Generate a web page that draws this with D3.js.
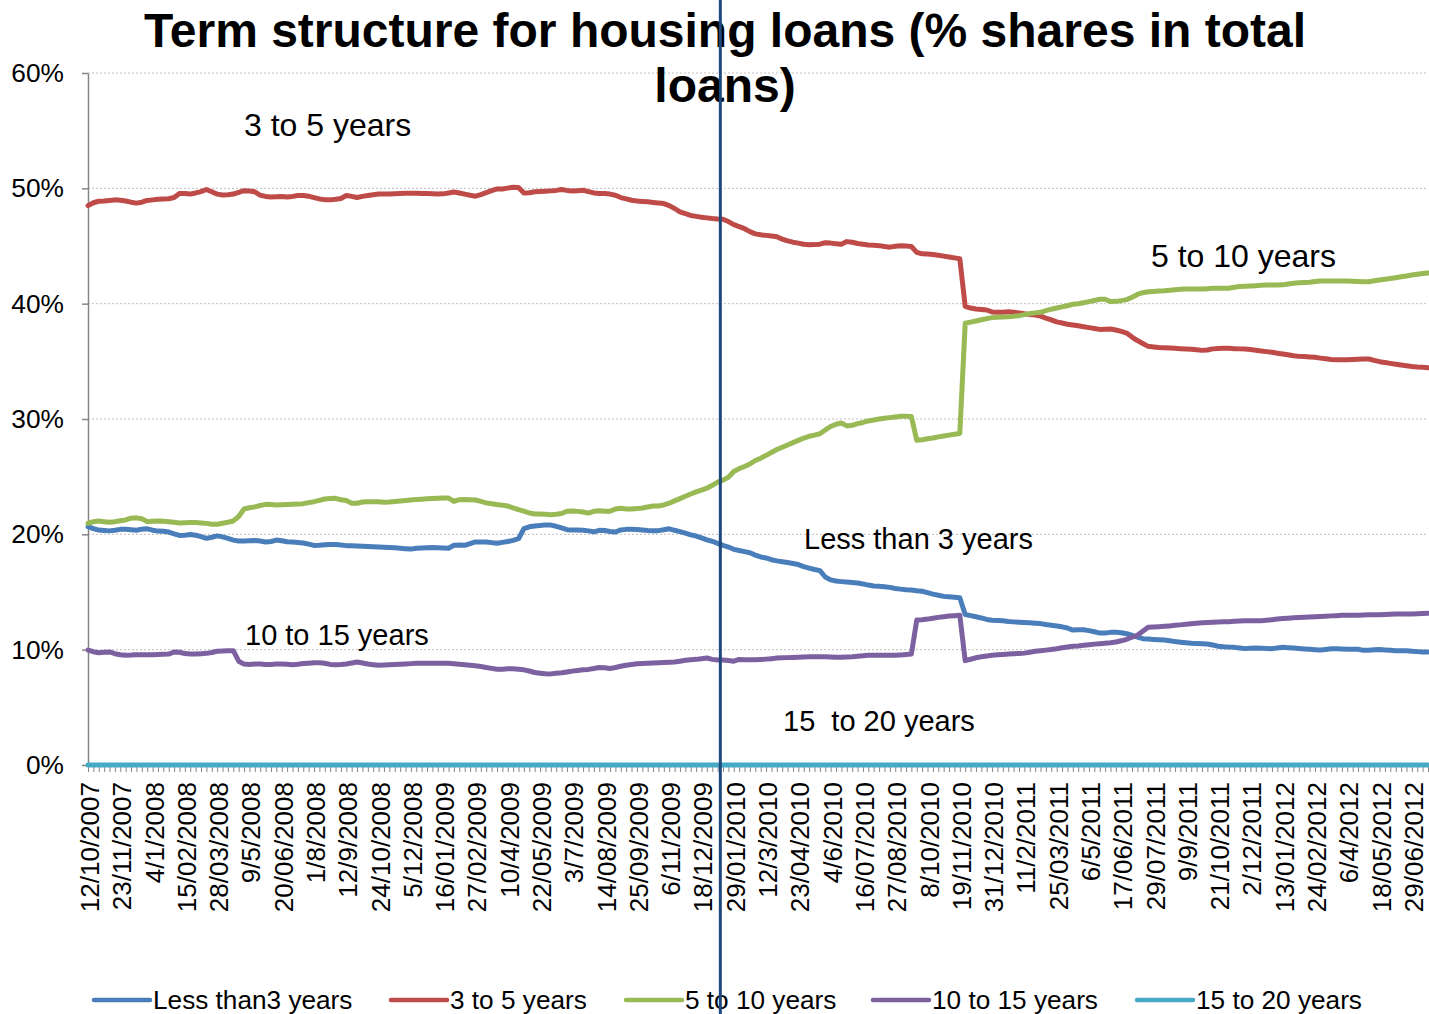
<!DOCTYPE html>
<html>
<head>
<meta charset="utf-8">
<script src="https://cdn.jsdelivr.net/npm/d3@7"></script>
<style>
  body { margin: 0; background: #ffffff; }
  svg { display: block; }
  text { font-family: "Liberation Sans", Arial, Helvetica, sans-serif; fill: #000; }
</style>
</head>
<body>
<svg id="chart" width="1429" height="1014"></svg>
<script>
// Weekly term structure of housing loans, % shares in total loans (12/10/2007 onwards)

const seriesNames = ["Less than3 years", "3 to 5 years", "5 to 10 years", "10 to 15 years", "15 to 20 years"];

const lessThan3 = [
  20.66, 20.5, 20.37, 20.33, 20.3, 20.35, 20.43, 20.44, 20.4, 20.35,
  20.45, 20.48, 20.36, 20.28, 20.26, 20.2, 20.05, 19.9, 19.93, 19.98,
  19.93, 19.8, 19.65, 19.75, 19.87, 19.78, 19.65, 19.5, 19.43, 19.43,
  19.45, 19.46, 19.42, 19.34, 19.38, 19.5, 19.45, 19.36, 19.33, 19.29,
  19.25, 19.15, 19.04, 19.05, 19.1, 19.12, 19.12, 19.07, 19.02, 19.0,
  18.98, 18.96, 18.94, 18.92, 18.9, 18.88, 18.86, 18.84, 18.8, 18.76,
  18.72, 18.8, 18.82, 18.84, 18.85, 18.84, 18.82, 18.8, 19.05, 19.08,
  19.05, 19.2, 19.34, 19.34, 19.34, 19.28, 19.22, 19.3, 19.38, 19.48,
  19.62, 20.5, 20.65, 20.72, 20.76, 20.82, 20.8, 20.7, 20.55, 20.4,
  20.38, 20.38, 20.36, 20.3, 20.22, 20.35, 20.33, 20.25, 20.2, 20.38,
  20.43, 20.43, 20.42, 20.37, 20.33, 20.32, 20.32, 20.4, 20.48, 20.35,
  20.24, 20.1, 19.95, 19.85, 19.7, 19.52, 19.4, 19.22, 19.05, 18.9,
  18.7, 18.6, 18.5, 18.4, 18.2, 18.04, 17.95, 17.8, 17.7, 17.62,
  17.55, 17.47, 17.38, 17.2, 17.07, 16.95, 16.85, 16.3, 16.05, 15.95,
  15.9, 15.86, 15.82, 15.78, 15.7, 15.6, 15.52, 15.5, 15.46, 15.4,
  15.3, 15.25, 15.2, 15.17, 15.1, 15.06, 14.95, 14.82, 14.72, 14.62,
  14.58, 14.55, 14.5, 13.05, 12.95, 12.85, 12.75, 12.62, 12.55, 12.53,
  12.51, 12.45, 12.41, 12.38, 12.35, 12.33, 12.3, 12.26, 12.18, 12.12,
  12.05, 11.98, 11.88, 11.7, 11.73, 11.72, 11.65, 11.55, 11.44, 11.45,
  11.5, 11.52, 11.47, 11.38, 11.25, 11.08, 10.95, 10.92, 10.89, 10.86,
  10.84, 10.78, 10.7, 10.65, 10.6, 10.55, 10.53, 10.51, 10.49, 10.4,
  10.3, 10.25, 10.22, 10.2, 10.14, 10.09, 10.12, 10.14, 10.12, 10.1,
  10.09, 10.15, 10.2, 10.17, 10.14, 10.1, 10.06, 10.03, 10.0, 9.97,
  10.02, 10.07, 10.08, 10.05, 10.03, 10.03, 10.03, 9.94, 9.95, 10.0,
  10.02, 9.98, 9.94, 9.91, 9.91, 9.91, 9.87, 9.83, 9.8, 9.8
];

const from3to5 = [
  48.5, 48.75, 48.88, 48.9, 48.95, 49.0, 48.97, 48.9, 48.8, 48.72,
  48.8, 48.95, 49.0, 49.05, 49.07, 49.1, 49.2, 49.55, 49.55, 49.5,
  49.6, 49.72, 49.9, 49.7, 49.5, 49.42, 49.45, 49.5, 49.65, 49.8,
  49.77, 49.7, 49.4, 49.3, 49.25, 49.28, 49.3, 49.25, 49.3, 49.38,
  49.38, 49.32, 49.2, 49.08, 49.02, 49.0, 49.05, 49.12, 49.38, 49.3,
  49.2, 49.3, 49.38, 49.45, 49.5, 49.5, 49.5, 49.52, 49.55, 49.58,
  49.58, 49.58, 49.56, 49.55, 49.53, 49.5, 49.52, 49.6, 49.68, 49.6,
  49.5, 49.4, 49.32, 49.45, 49.62, 49.8, 49.95, 49.95, 50.02, 50.1,
  50.08, 49.6, 49.62, 49.7, 49.72, 49.75, 49.78, 49.82, 49.9, 49.82,
  49.77, 49.8, 49.83, 49.72, 49.6, 49.55, 49.55, 49.5, 49.4, 49.2,
  49.08, 48.97, 48.9, 48.86, 48.83, 48.78, 48.73, 48.68, 48.5, 48.25,
  47.95, 47.8, 47.65, 47.57, 47.5, 47.44, 47.38, 47.34, 47.32, 47.12,
  46.85, 46.68, 46.5, 46.25, 46.05, 45.97, 45.92, 45.87, 45.8, 45.6,
  45.45, 45.33, 45.25, 45.15, 45.1, 45.12, 45.16, 45.28, 45.25, 45.2,
  45.15, 45.38, 45.32, 45.22, 45.15, 45.09, 45.06, 45.03, 44.95, 44.9,
  44.98, 45.02, 45.0, 44.95, 44.45, 44.32, 44.3, 44.26, 44.2, 44.12,
  44.05, 43.97, 43.9, 39.77, 39.62, 39.54, 39.5, 39.45, 39.28, 39.25,
  39.25, 39.3, 39.25, 39.2, 39.12, 39.07, 39.02, 38.92, 38.75, 38.6,
  38.42, 38.32, 38.22, 38.15, 38.08, 38.0, 37.92, 37.85, 37.77, 37.78,
  37.8, 37.72, 37.6, 37.45, 37.1, 36.8, 36.55, 36.3, 36.25, 36.2,
  36.17, 36.15, 36.13, 36.1, 36.07, 36.05, 36.0, 35.95, 35.98, 36.08,
  36.12, 36.13, 36.13, 36.1, 36.08, 36.07, 36.03, 35.97, 35.9, 35.84,
  35.78, 35.7, 35.63, 35.57, 35.48, 35.43, 35.41, 35.38, 35.35, 35.28,
  35.22, 35.16, 35.14, 35.14, 35.14, 35.16, 35.18, 35.2, 35.2, 35.08,
  34.97, 34.9, 34.82, 34.75, 34.68, 34.62, 34.55, 34.5, 34.48, 34.45
];

const from5to10 = [
  20.95, 21.1, 21.15, 21.1, 21.05, 21.1, 21.18, 21.25, 21.4, 21.43,
  21.35, 21.1, 21.14, 21.16, 21.14, 21.1, 21.05, 20.98, 21.0, 21.03,
  21.03, 20.99, 20.95, 20.88, 20.88, 20.96, 21.05, 21.16, 21.55, 22.2,
  22.3, 22.38, 22.5, 22.6, 22.58, 22.55, 22.56, 22.58, 22.6, 22.62,
  22.66, 22.75, 22.83, 22.95, 23.06, 23.1, 23.12, 23.0, 22.93, 22.7,
  22.7, 22.8, 22.83, 22.83, 22.83, 22.79, 22.8, 22.85, 22.89, 22.93,
  22.98, 23.03, 23.05, 23.08, 23.1, 23.12, 23.15, 23.15, 22.85, 23.0,
  23.02, 23.0, 22.98, 22.86, 22.73, 22.65, 22.58, 22.53, 22.45, 22.3,
  22.15, 22.02, 21.85, 21.76, 21.76, 21.74, 21.7, 21.74, 21.8, 22.0,
  22.03, 21.99, 21.93, 21.84, 22.0, 22.04, 22.01, 22.0, 22.2, 22.27,
  22.2, 22.2, 22.23, 22.28, 22.37, 22.46, 22.46, 22.55, 22.7, 22.9,
  23.1, 23.3, 23.5, 23.68, 23.84, 24.0, 24.25, 24.52, 24.7, 24.95,
  25.45, 25.7, 25.88, 26.1, 26.4, 26.6, 26.85, 27.1, 27.35, 27.55,
  27.75, 27.95, 28.15, 28.35, 28.5, 28.6, 28.72, 29.05, 29.35, 29.55,
  29.65, 29.4, 29.45, 29.6, 29.7, 29.83, 29.92, 30.0, 30.06, 30.12,
  30.18, 30.23, 30.23, 30.22, 28.15, 28.2, 28.28, 28.35, 28.45, 28.53,
  28.6, 28.68, 28.75, 38.3, 38.4, 38.5, 38.6, 38.7, 38.79, 38.82,
  38.84, 38.86, 38.9, 38.96, 39.05, 39.14, 39.2, 39.25, 39.4, 39.52,
  39.62, 39.72, 39.82, 39.95, 40.0, 40.08, 40.18, 40.28, 40.38, 40.38,
  40.18, 40.2, 40.26, 40.35, 40.55, 40.8, 40.95, 41.04, 41.06, 41.09,
  41.12, 41.17, 41.21, 41.24, 41.27, 41.27, 41.27, 41.27, 41.3, 41.33,
  41.33, 41.33, 41.34, 41.42, 41.48, 41.51, 41.54, 41.56, 41.59, 41.61,
  41.62, 41.62, 41.63, 41.7, 41.77, 41.81, 41.83, 41.86, 41.92, 41.96,
  41.97, 41.97, 41.97, 41.97, 41.97, 41.94, 41.92, 41.9, 41.9, 41.98,
  42.05, 42.12, 42.18, 42.25, 42.33, 42.4, 42.48, 42.55, 42.61, 42.66
];

const from10to15 = [
  9.97, 9.82, 9.74, 9.78, 9.8, 9.65, 9.56, 9.52, 9.53, 9.56,
  9.57, 9.57, 9.57, 9.58, 9.6, 9.62, 9.8, 9.78, 9.66, 9.63,
  9.62, 9.65, 9.68, 9.76, 9.86, 9.89, 9.91, 9.91, 9.0, 8.75,
  8.72, 8.75, 8.76, 8.71, 8.72, 8.75, 8.76, 8.73, 8.7, 8.74,
  8.8, 8.83, 8.86, 8.87, 8.82, 8.72, 8.7, 8.72, 8.76, 8.85,
  8.93, 8.85, 8.76, 8.7, 8.64, 8.66, 8.69, 8.71, 8.74, 8.76,
  8.79, 8.82, 8.82, 8.82, 8.82, 8.82, 8.82, 8.82, 8.78, 8.74,
  8.7, 8.65, 8.6, 8.54, 8.46, 8.38, 8.3, 8.31, 8.34, 8.34,
  8.31, 8.25, 8.15, 8.02, 7.96, 7.91, 7.9, 7.95, 8.0, 8.07,
  8.14, 8.2, 8.26, 8.29, 8.37, 8.45, 8.44, 8.37, 8.45, 8.56,
  8.65, 8.72, 8.77, 8.79, 8.82, 8.84, 8.86, 8.88, 8.9, 8.93,
  9.0, 9.08, 9.13, 9.16, 9.22, 9.28, 9.16, 9.1, 9.1, 9.06,
  9.0, 9.15, 9.12, 9.12, 9.13, 9.15, 9.18, 9.22, 9.27, 9.3,
  9.31, 9.33, 9.35, 9.37, 9.39, 9.39, 9.39, 9.39, 9.37, 9.35,
  9.35, 9.37, 9.39, 9.43, 9.47, 9.51, 9.51, 9.51, 9.51, 9.51,
  9.51, 9.54, 9.58, 9.62, 12.57, 12.6, 12.65, 12.72, 12.8, 12.86,
  12.92, 12.95, 12.98, 9.05, 9.17, 9.3, 9.38, 9.45, 9.51, 9.55,
  9.58, 9.62, 9.65, 9.67, 9.7, 9.77, 9.86, 9.91, 9.96, 10.02,
  10.08, 10.16, 10.23, 10.3, 10.32, 10.38, 10.43, 10.48, 10.52, 10.56,
  10.6, 10.66, 10.77, 10.9, 11.08, 11.25, 11.6, 11.94, 11.96, 11.99,
  12.02, 12.06, 12.11, 12.15, 12.2, 12.25, 12.3, 12.34, 12.36, 12.37,
  12.39, 12.41, 12.43, 12.46, 12.48, 12.5, 12.51, 12.51, 12.51, 12.56,
  12.6, 12.65, 12.7, 12.73, 12.77, 12.79, 12.81, 12.84, 12.86, 12.88,
  12.9, 12.93, 12.95, 12.98, 12.98, 12.98, 12.99, 13.01, 13.03, 13.03,
  13.03, 13.05, 13.08, 13.09, 13.09, 13.09, 13.1, 13.12, 13.14, 13.15
];

const from15to20 = [
  0, 0, 0, 0, 0, 0, 0, 0, 0, 0, 0, 0, 0, 0, 0, 0, 0, 0, 0, 0, 0, 0, 0, 0, 0,
  0, 0, 0, 0, 0, 0, 0, 0, 0, 0, 0, 0, 0, 0, 0, 0, 0, 0, 0, 0, 0, 0, 0, 0, 0,
  0, 0, 0, 0, 0, 0, 0, 0, 0, 0, 0, 0, 0, 0, 0, 0, 0, 0, 0, 0, 0, 0, 0, 0, 0,
  0, 0, 0, 0, 0, 0, 0, 0, 0, 0, 0, 0, 0, 0, 0, 0, 0, 0, 0, 0, 0, 0, 0, 0, 0,
  0, 0, 0, 0, 0, 0, 0, 0, 0, 0, 0, 0, 0, 0, 0, 0, 0, 0, 0, 0, 0, 0, 0, 0, 0,
  0, 0, 0, 0, 0, 0, 0, 0, 0, 0, 0, 0, 0, 0, 0, 0, 0, 0, 0, 0, 0, 0, 0, 0, 0,
  0, 0, 0, 0, 0, 0, 0, 0, 0, 0, 0, 0, 0, 0, 0, 0, 0, 0, 0, 0, 0, 0, 0, 0, 0,
  0, 0, 0, 0, 0, 0, 0, 0, 0, 0, 0, 0, 0, 0, 0, 0, 0, 0, 0, 0, 0, 0, 0, 0, 0,
  0, 0, 0, 0, 0, 0, 0, 0, 0, 0, 0, 0, 0, 0, 0, 0, 0, 0, 0, 0, 0, 0, 0, 0, 0,
  0, 0, 0, 0, 0, 0, 0, 0, 0, 0, 0, 0, 0, 0, 0, 0, 0, 0, 0, 0, 0, 0, 0, 0, 0
];

// Every sixth week carries a date label
const tickLabels = [
  "12/10/2007", "23/11/2007", "4/1/2008", "15/02/2008", "28/03/2008", "9/5/2008",
  "20/06/2008", "1/8/2008", "12/9/2008", "24/10/2008", "5/12/2008", "16/01/2009",
  "27/02/2009", "10/4/2009", "22/05/2009", "3/7/2009", "14/08/2009", "25/09/2009",
  "6/11/2009", "18/12/2009", "29/01/2010", "12/3/2010", "23/04/2010", "4/6/2010",
  "16/07/2010", "27/08/2010", "8/10/2010", "19/11/2010", "31/12/2010", "11/2/2011",
  "25/03/2011", "6/5/2011", "17/06/2011", "29/07/2011", "9/9/2011", "21/10/2011",
  "2/12/2011", "13/01/2012", "24/02/2012", "6/4/2012", "18/05/2012", "29/06/2012"
];
const labelStep = 6;

const yTicks = [0, 10, 20, 30, 40, 50, 60];

// Week position of the vertical event marker (turn of 2009/2010)
const eventWeek = 117.5;

const titleLines = ["Term structure for housing loans (% shares in total", "loans)"];

// ---------------------------------------------------------------------------

const colors = ["#4A7EBB", "#BE4B48", "#98B954", "#7D60A0", "#46AAC5"];
const allSeries = [lessThan3, from3to5, from5to10, from10to15, from15to20];
const N = lessThan3.length;

const plot = { left: 88, right: 1428, top: 73, bottom: 765 };

const svg = d3.select("#chart");

const x = d3.scaleLinear().domain([0, N - 1]).range([plot.left, plot.right]);
const y = d3.scaleLinear().domain([0, 60]).range([plot.bottom, plot.top]);

// Horizontal gridlines
svg.append("g")
  .selectAll("line")
  .data(yTicks.filter(d => d > 0))
  .join("line")
  .attr("x1", plot.left).attr("x2", plot.right)
  .attr("y1", d => y(d)).attr("y2", d => y(d))
  .attr("stroke", "#BFBFBF")
  .attr("stroke-width", 1)
  .attr("stroke-dasharray", "2,2");

// Value axis
const yAxis = svg.append("g")
  .attr("transform", `translate(${plot.left},0)`)
  .call(d3.axisLeft(y).tickValues(yTicks).tickSize(6).tickSizeOuter(0).tickPadding(18)
    .tickFormat(d => d + "%"));
yAxis.select(".domain").attr("stroke", "#868686").attr("stroke-width", 1.5);
yAxis.selectAll(".tick line").attr("stroke", "#868686").attr("stroke-width", 1.5);
yAxis.selectAll(".tick text")
  .style("font-size", "26.3px")
  .style("font-family", "'Liberation Sans', Arial, sans-serif")
  .attr("fill", "#000");

// Category axis: a minor tick below every week
const xAxis = svg.append("g")
  .attr("transform", `translate(0,${plot.bottom})`)
  .call(d3.axisBottom(x).tickValues(d3.range(N)).tickSize(7).tickSizeOuter(0).tickFormat(""));
xAxis.select(".domain").attr("stroke", "#868686").attr("stroke-width", 1.5);
xAxis.selectAll(".tick line").attr("stroke", "#868686").attr("stroke-width", 1);

// Rotated date labels
svg.append("g")
  .selectAll("text")
  .data(tickLabels)
  .join("text")
  .attr("transform", (d, i) => `translate(${x(i * labelStep)},782) rotate(-90)`)
  .attr("text-anchor", "end")
  .attr("dy", "11px")
  .style("font-size", "26px")
  .text(d => d);

// Series lines
const line = d3.line().x((d, i) => x(i)).y(d => y(d));
svg.append("g")
  .selectAll("path")
  .data(allSeries)
  .join("path")
  .attr("d", line)
  .attr("fill", "none")
  .attr("stroke", (d, i) => colors[i])
  .attr("stroke-width", 5)
  .attr("stroke-linejoin", "round")
  .attr("stroke-linecap", "round");

// Series annotations inside the plot
const annotations = [
  { text: "3 to 5 years", x: 244, y: 136, size: 32 },
  { text: "5 to 10 years", x: 1151, y: 267, size: 32 },
  { text: "Less than 3 years", x: 804, y: 549, size: 29 },
  { text: "10 to 15 years", x: 245, y: 645, size: 29 },
  { text: "15  to 20 years", x: 783, y: 731, size: 29 }
];
svg.append("g")
  .selectAll("text")
  .data(annotations)
  .join("text")
  .attr("x", d => d.x)
  .attr("y", d => d.y)
  .style("font-size", d => d.size + "px")
  .style("white-space", "pre")
  .attr("xml:space", "preserve")
  .text(d => d.text);

// Title
svg.append("g")
  .selectAll("text")
  .data(titleLines)
  .join("text")
  .attr("x", 725)
  .attr("y", (d, i) => 47 + i * 55)
  .attr("text-anchor", "middle")
  .style("font-size", "48px")
  .style("font-weight", "bold")
  .text(d => d);

// Legend: one swatch + label per series, at fixed slots along the bottom
const legendSlots = [94, 391, 626, 873, 1137];
const legend = svg.append("g").attr("transform", "translate(0,1000)");
const items = legend.selectAll("g")
  .data(seriesNames)
  .join("g")
  .attr("transform", (d, i) => `translate(${legendSlots[i]},0)`);
items.append("line")
  .attr("x1", 0).attr("x2", 56)
  .attr("y1", 0).attr("y2", 0)
  .attr("stroke", (d, i) => colors[i])
  .attr("stroke-width", 4.5)
  .attr("stroke-linecap", "round");
items.append("text")
  .attr("x", 59)
  .attr("y", 9)
  .style("font-size", "26.2px")
  .text(d => d);

// Vertical event marker spanning the whole figure
svg.append("line")
  .attr("x1", x(eventWeek)).attr("x2", x(eventWeek))
  .attr("y1", 0).attr("y2", 1014)
  .attr("stroke", "#1F497D")
  .attr("stroke-width", 3);
</script>
</body>
</html>
